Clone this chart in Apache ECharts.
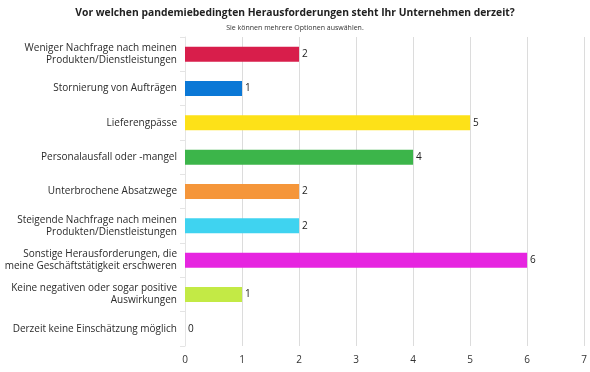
<!DOCTYPE html>
<html><head><meta charset="utf-8">
<script src="https://cdn.jsdelivr.net/npm/echarts@6/dist/echarts.min.js"></script>
<style>html,body{margin:0;padding:0;background:#fff}#c{width:590px;height:372px}</style>
</head><body><div id="c"></div>
<script>
const categories = [
  "Weniger Nachfrage nach meinen\nProdukten/Dienstleistungen",
  "Stornierung von Aufträgen",
  "Lieferengpässe",
  "Personalausfall oder -mangel",
  "Unterbrochene Absatzwege",
  "Steigende Nachfrage nach meinen\nProdukten/Dienstleistungen",
  "Sonstige Herausforderungen, die\nmeine Geschäftstätigkeit erschweren",
  "Keine negativen oder sogar positive\nAuswirkungen",
  "Derzeit keine Einschätzung möglich"
];
const values = [2, 1, 5, 4, 2, 2, 6, 1, 0];
const colors = ["#d81e4b", "#0b78d6", "#fde118", "#3cb54a", "#f5963a", "#3fd3f0", "#e625e0", "#c3ea45", "#999999"];
const xTicks = [0, 1, 2, 3, 4, 5, 6, 7];

const chart = echarts.init(document.getElementById('c'));
chart.setOption({
  animation: false,
  title: {
    text: "Vor welchen pandemiebedingten Herausforderungen steht Ihr Unternehmen derzeit?",
    subtext: "Sie können mehrere Optionen auswählen.",
    left: 'center', top: 3, itemGap: 6,
    textStyle: {fontFamily: 'Open Sans', fontSize: 10.3, fontWeight: 'bold', color: '#222'},
    subtextStyle: {fontFamily: 'Open Sans', fontSize: 7, color: '#333'}
  },
  grid: {left: 185, right: 5, top: 37, bottom: 26, containLabel: false},
  xAxis: {
    type: 'value', min: 0, max: 7, interval: 1,
    axisLine: {show: false}, axisTick: {show: false},
    splitLine: {lineStyle: {color: '#dcdcdc'}},
    axisLabel: {fontFamily: 'Open Sans', fontSize: 10, color: '#333', margin: 9,
      formatter: v => xTicks.includes(v) ? String(v) : ''}
  },
  yAxis: {
    type: 'category', inverse: true, data: categories,
    axisLine: {lineStyle: {color: '#e4e4e4'}},
    axisTick: {show: true, length: 5, lineStyle: {color: '#e4e4e4'}},
    axisLabel: {fontFamily: 'Open Sans', fontSize: 10, color: '#2a2a2a', margin: 8, lineHeight: 12}
  },
  series: [{
    type: 'bar', barWidth: 15,
    data: values.map((v, i) => ({value: v, itemStyle: {color: colors[i]}})),
    label: {show: true, position: 'right', distance: 3, fontFamily: 'Open Sans', fontSize: 10, color: '#222'}
  }]
});
</script></body></html>
